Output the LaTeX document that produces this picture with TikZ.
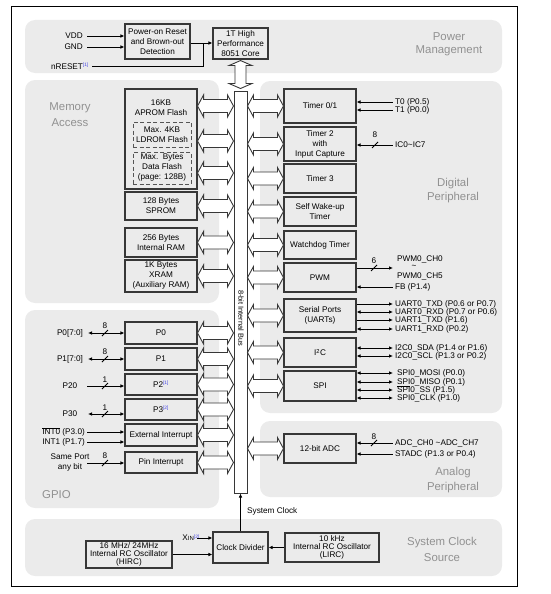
\documentclass[tikz,border=0pt]{standalone}
\usepackage{fontspec}
\setmainfont{Liberation Sans}
\usetikzlibrary{arrows.meta,calc}
\definecolor{pangray}{RGB}{235,235,235}
\definecolor{labgray}{RGB}{145,145,145}
\definecolor{boxline}{RGB}{55,55,55}
\definecolor{supblue}{RGB}{70,70,230}
\newcommand\boxfnt{\fontsize{8.2}{10}\selectfont}
\newcommand\supfnt{\fontsize{4.8}{5}\selectfont}
\newcommand\sref[1]{\textsuperscript{\color{supblue}\supfnt[#1]}}
\newcommand\ovl[1]{\ensuremath{\overline{\mbox{#1}}}}
\newcommand\hollowh[2]{\draw[busarr] let \p1=(#1),\p2=(#2) in (\x1,\y1) -- ++(6pt,11pt) -- ++(0pt,-4.5pt) -- (\x2-6pt,\y1+6.5pt) -- ++(0pt,4.5pt) -- (\x2,\y1) -- ++(-6pt,-11pt) -- ++(0pt,4.5pt) -- (\x1+6pt,\y1-6.5pt) -- ++(0pt,-4.5pt) -- cycle;}
\newcommand\hollowv[2]{\draw[busarr] let \p1=(#1),\p2=(#2) in (\x1,\y1-1pt) -- (\x1+11.5pt,\y1-6pt) -- (\x1+5.5pt,\y1-6pt) -- (\x1+5.5pt,\y2+7pt) -- (\x1+11.5pt,\y2+7pt) -- (\x1,\y2+2pt) -- (\x1-11.5pt,\y2+7pt) -- (\x1-5.5pt,\y2+7pt) -- (\x1-5.5pt,\y1-6pt) -- (\x1-11.5pt,\y1-6pt) -- cycle;}
\begin{document}
\begin{tikzpicture}[x=1pt,y=-1pt,>={Latex[length=4pt,width=3.6pt]},
 panel/.style={fill=pangray,rounded corners=10pt},
 plab/.style={text=labgray,align=center,inner sep=0pt},
 blk/.style={draw=boxline,line width=1.1pt,inner sep=0pt,align=center,font=\boxfnt},
 dblk/.style={blk,line width=1pt,draw=boxline!85,dash pattern=on 4pt off 2.5pt},
 sz/.style 2 args={minimum width=#1,minimum height=#2},
 lab/.style={font=\boxfnt,inner sep=0pt,text height=5.9pt,text depth=0pt},
 sig/.style={draw=black,line width=0.8pt},
 busarr/.style={draw=boxline,line width=0.9pt,fill=white,line join=miter},
]
\useasboundingbox (0,0) rectangle (551,594);
\draw[line width=1pt] (11,7) rectangle (517,586);
% panels
\fill[panel] (25,20) rectangle (502,73);
\fill[panel] (25,80) rectangle (219,303);
\fill[panel] (25,310) rectangle (219,508);
\fill[panel] (260,81) rectangle (502,413);
\fill[panel] (260,421) rectangle (502,497);
\fill[panel] (25,519) rectangle (502,576);
% panel labels
\node[plab,font=\fontsize{11.4}{13}\selectfont] (lpow) at (449,44) {Power\\Management};
\node[plab,font=\fontsize{11.4}{16}\selectfont] (lmem) at (70,114.5) {Memory\\Access};
\node[plab,font=\fontsize{11.4}{14}\selectfont] (ldig) at (453,190.5) {Digital\\Peripheral};
\node[plab,font=\fontsize{11.4}{15}\selectfont] (lana) at (453,480) {Analog\\Peripheral};
\node[plab,font=\fontsize{11.4}{14}\selectfont,anchor=west] (lgpio) at (42,495) {GPIO};
\node[plab,font=\fontsize{11.4}{16}\selectfont] (lclk) at (442,549.5) {System Clock\\Source};
% power
\node[blk,sz={65}{35}] (por) at (157.5,41.5) {Power-on Reset\\and Brown-out\\Detection};
\node[blk,sz={55}{31}] (core) at (240.5,43.5) {1T High\\Performance\\8051 Core};
\node[lab,anchor=east] (vdd) at (83,36) {VDD};
\node[lab,anchor=east] (gnd) at (83,47) {GND};
\node[lab,anchor=east] (nrst) at (89,66.5) {nRESET\sref{1}};
\coordinate (rstj) at (203,43);
\draw[sig,->] ([xshift=4]vdd.east) -- (por.west |- vdd.east);
\draw[sig,->] ([xshift=4]gnd.east) -- (por.west |- gnd.east);
\draw[sig] ([xshift=3]nrst.east) -| (rstj);
\draw[sig,->] (por.east |- rstj) -- (core.west |- rstj);
% bus
\node[draw=boxline,fill=white,line width=1pt,sz={13}{402},inner sep=0pt] (bus) at (240.5,292) {};
\node[inner sep=0pt,rotate=-90,font=\fontsize{7.4}{7.4}\selectfont] (buslab) at (241,318) {8-bit Internal Bus};
\hollowv{core.south}{bus.north}
% memory
\node[blk,sz={72}{100}] (mem) at (161,139) {};
\node[inner sep=0pt,align=center,font=\fontsize{8.2}{9.5}\selectfont] (aprom) at (161,107.5) {16KB\\APROM Flash};
\node[dblk,sz={58}{25},font=\fontsize{8.2}{10}\selectfont] (ldrom) at (162,134.5) {Max. 4KB\\LDROM Flash};
\node[dblk,sz={58}{32}] (dflash) at (162,168) {Max.\ \ Bytes\\Data Flash\\(page: 128B)};
\node[blk,sz={72}{28}] (sprom) at (161,206) {128 Bytes\\SPROM};
\node[blk,sz={72}{29}] (iram) at (161,242.5) {256 Bytes\\Internal RAM};
\node[blk,sz={72}{32}] (xram) at (161,276) {1K Bytes\\XRAM\\(Auxiliary RAM)};
\coordinate (ma) at (0,106);
\coordinate (mb) at (0,141);
\coordinate (mc) at (0,173);
\hollowh{mem.east |- ma}{bus.west |- ma}
\hollowh{mem.east |- mb}{bus.west |- mb}
\hollowh{mem.east |- mc}{bus.west |- mc}
\hollowh{sprom.east}{bus.west |- sprom.east}
\hollowh{iram.east}{bus.west |- iram.east}
\hollowh{xram.east}{bus.west |- xram.east}
% GPIO
\node[blk,sz={72}{22}] (p0) at (161,333) {P0};
\node[blk,sz={72}{22}] (p1) at (161,359) {P1};
\node[blk,sz={72}{21}] (p2) at (161,384.5) {P2\sref{1}};
\node[blk,sz={72}{21}] (p3) at (161,409.5) {P3\sref{2}};
\node[blk,sz={72}{22}] (exti) at (161,435) {External Interrupt};
\node[blk,sz={72}{21}] (pini) at (161,462.5) {Pin Interrupt};
\foreach \bx in {p0,p1,p2,p3,exti,pini} {\hollowh{\bx.east}{bus.west |- \bx.east}}
\node[lab] (p0l) at (70,333) {P0[7:0]};
\node[lab] (p1l) at (70,359) {P1[7:0]};
\node[lab] (p20l) at (70,386) {P20};
\node[lab] (p30l) at (70,414) {P30};
\node[lab,anchor=east] (int0l) at (85,432) {\ovl{INT0} (P3.0)};
\node[lab,anchor=east] (int1l) at (85,442) {INT1 (P1.7)};
\node[lab] (samel) at (70,457) {Same Port};
\node[lab] (anyl) at (70,467) {any bit};
\coordinate (gp0) at (88,333);
\coordinate (gp1) at (88,359);
\coordinate (gp2) at (87,386);
\coordinate (gp3) at (88,414);
\coordinate (gi0) at (87,432);
\coordinate (gi1) at (87,442);
\coordinate (gpi) at (87,463);
\draw[sig,<->] (gp0) -- (p0.west |- gp0);
\draw[sig,<->] (gp1) -- (p1.west |- gp1);
\draw[sig,->] (gp2) -- (p2.west |- gp2);
\draw[sig,<->] (gp3) -- (p3.west |- gp3);
\draw[sig,->] (gi0) -- (exti.west |- gi0);
\draw[sig,->] (gi1) -- (exti.west |- gi1);
\draw[sig,->] (gpi) -- (pini.west |- gpi);
\draw[sig] (102,336) -- (108,330);
\draw[sig] (102,362) -- (108,356);
\draw[sig] (102,389) -- (108,383);
\draw[sig] (102,417) -- (108,411);
\draw[sig] (102,466) -- (108,460);
\node[lab] (w0) at (105,326) {8};
\node[lab] (w1) at (105,352) {8};
\node[lab] (w2) at (105,380) {1};
\node[lab] (w3) at (105,408) {1};
\node[lab] (w4) at (105,456) {8};
% digital peripherals
\node[blk,sz={72}{34}] (tim01) at (320,106) {Timer 0/1};
\node[blk,sz={72}{34}] (tim2) at (320,144) {Timer 2\\with\\Input Capture};
\node[blk,sz={72}{29}] (tim3) at (320,178.5) {Timer 3};
\node[blk,sz={72}{29}] (wkt) at (320,211.5) {Self Wake-up\\Timer};
\node[blk,sz={72}{28}] (wdt) at (320,245) {Watchdog Timer};
\node[blk,sz={72}{29}] (pwm) at (320,277.5) {PWM};
\node[blk,sz={72}{33}] (uart) at (320,315.5) {Serial Ports\\(UARTs)};
\node[blk,sz={72}{29}] (iic) at (320,352.5) {I\textsuperscript{2}C};
\node[blk,sz={72}{30}] (spi) at (320,386) {SPI};
\node[blk,sz={72}{29}] (adc) at (320,448.5) {12-bit ADC};
\foreach \bx in {tim01,tim2,tim3,wkt,wdt,pwm,uart,iic,spi,adc} {\hollowh{bus.east |- \bx.west}{\bx.west}}
% right signals
\node[lab,anchor=west] (t0) at (395,102) {T0 (P0.5)};
\node[lab,anchor=west] (t1) at (395,110) {T1 (P0.0)};
\node[lab,anchor=west] (ic) at (395,145) {IC0\textasciitilde IC7};
\node[lab,anchor=west] (pwm0) at (397,259) {PWM0\_CH0};
\node[lab] (tild) at (414,266) {\textasciitilde};
\node[lab,anchor=west] (pwm5) at (397,276) {PWM0\_CH5};
\node[lab,anchor=west] (fb) at (395,287) {FB (P1.4)};
\node[lab,anchor=west] (u0t) at (395,304) {UART0\_TXD (P0.6 or P0.7)};
\node[lab,anchor=west] (u0r) at (395,312) {UART0\_RXD (P0.7 or P0.6)};
\node[lab,anchor=west] (u1t) at (395,320) {UART1\_TXD (P1.6)};
\node[lab,anchor=west] (u1r) at (395,329) {UART1\_RXD (P0.2)};
\node[lab,anchor=west] (sda) at (395,348) {I2C0\_SDA (P1.4 or P1.6)};
\node[lab,anchor=west] (scl) at (395,356) {I2C0\_SCL (P1.3 or P0.2)};
\node[lab,anchor=west] (mosi) at (397,373) {SPI0\_MOSI (P0.0)};
\node[lab,anchor=west] (miso) at (397,382) {SPI0\_MISO (P0.1)};
\node[lab,anchor=west] (ss) at (397,390) {\ovl{SPI}0\_SS (P1.5)};
\node[lab,anchor=west] (sclk) at (397,398) {SPI0\_CLK (P1.0)};
\node[lab,anchor=west] (adcch) at (395,443) {ADC\_CH0 \textasciitilde ADC\_CH7};
\node[lab,anchor=west] (stadc) at (395,454) {STADC (P1.3 or P0.4)};
\coordinate (pwmout) at (393,268);
\draw[sig,<-] (tim01.east |- t0) -- ([xshift=-2]t0.west);
\draw[sig,<-] (tim01.east |- t1) -- ([xshift=-2]t1.west);
\draw[sig,<-] (tim2.east |- ic) -- ([xshift=-2]ic.west);
\draw[sig,->] (pwm.east |- pwmout) -- (pwmout);
\draw[sig,<-] (pwm.east |- fb) -- ([xshift=-2]fb.west);
\draw[sig,->] (uart.east |- u0t) -- ([xshift=-2]u0t.west);
\draw[sig,<->] (uart.east |- u0r) -- ([xshift=-2]u0r.west);
\draw[sig,->] (uart.east |- u1t) -- ([xshift=-2]u1t.west);
\draw[sig,<->] (uart.east |- u1r) -- ([xshift=-2]u1r.west);
\draw[sig,<->] (iic.east |- sda) -- ([xshift=-2]sda.west);
\draw[sig,<->] (iic.east |- scl) -- ([xshift=-2]scl.west);
\draw[sig,<->] (spi.east |- mosi) -- ([xshift=-4]mosi.west);
\draw[sig,<->] (spi.east |- miso) -- ([xshift=-4]miso.west);
\draw[sig,<->] (spi.east |- ss) -- ([xshift=-4]ss.west);
\draw[sig,<->] (spi.east |- sclk) -- ([xshift=-4]sclk.west);
\draw[sig,<-] (adc.east |- adcch) -- ([xshift=-2]adcch.west);
\draw[sig,<-] (adc.east |- stadc) -- ([xshift=-2]stadc.west);
\draw[sig] (372,148) -- (378,142);
\draw[sig] (371,271) -- (377,265);
\draw[sig] (371,446) -- (377,440);
\node[lab] (w5) at (375,135) {8};
\node[lab] (w6) at (374,261) {6};
\node[lab] (w7) at (374,437) {8};
% clock
\node[blk,sz={86}{27},font=\fontsize{8.2}{8}\selectfont] (hirc) at (129,554.5) {16 MHz/ 24MHz\\Internal RC Oscillator\\(HIRC)};
\node[blk,sz={55}{31}] (clkdiv) at (240.5,547.5) {Clock Divider};
\node[blk,sz={94}{29},font=\fontsize{8.2}{8}\selectfont] (lirc) at (332,547.5) {10 kHz\\Internal RC Oscillator\\(LIRC)};
\node[lab,anchor=east] (xin) at (200,538) {X{\fontsize{6}{6}\selectfont IN}\sref{2}};
\node[lab,anchor=west] (sysclk) at (247,511) {System Clock};
\draw[sig,->] (hirc.east) -- (clkdiv.west |- hirc.east);
\draw[sig,->] (lirc.west) -- (clkdiv.east |- lirc.west);
\draw[sig,->] ([xshift=-3]xin.east) -- (clkdiv.west |- xin.east);
\draw[sig,->] (clkdiv.north) -- (bus.south);
\end{tikzpicture}
\end{document}
